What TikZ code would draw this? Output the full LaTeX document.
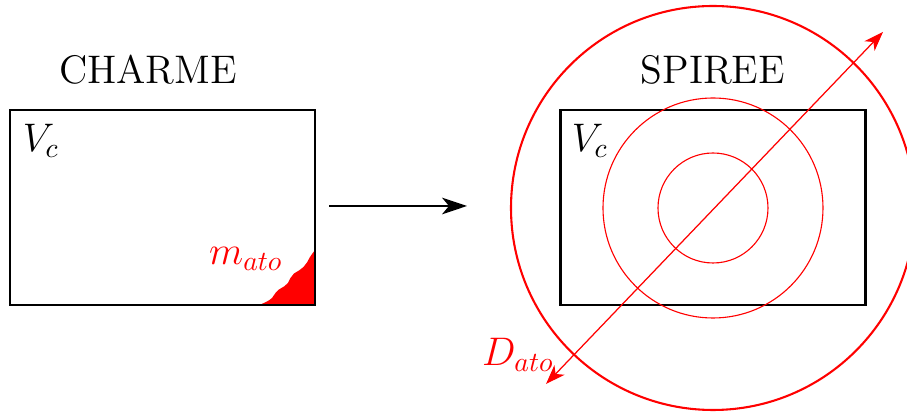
\documentclass[tikz,border=0pt]{standalone}
\usetikzlibrary{arrows.meta}
\begin{document}
\begin{tikzpicture}[x=0.361pt,y=-0.361pt,
  boxnode/.style={draw=black,line width=0.75pt,minimum width={305*0.361pt},minimum height={195*0.361pt},inner sep=0pt},
  titletext/.style={font=\Large,inner sep=0pt},
  lbl/.style={font=\Large,inner sep=0pt},
  redlbl/.style={font=\Large,text=red,inner sep=0pt},
  thincirc/.style={draw=red,line width=0.4pt},
  bigcirc/.style={draw=red,line width=0.75pt}]
\clip (0,0) rectangle (907,412);
\useasboundingbox (0,0) rectangle (907,412);
% left
\node[titletext] (charme) at (148,70) {CHARME};
\fill[red] (315,305) -- (259,305) --
  plot[smooth,tension=0.7] coordinates {(259,305) (266,302) (272,298) (275.5,293) (279,289.5) (284,286.5) (288,283) (290.5,278) (294,273.5) (299,270.5) (303.5,267) (307,262.5) (310,257) (315,250)} -- cycle;
\node[boxnode] (left) at (162.5,207.5) {};
\node[lbl] (vc1) at (41,141) {$V_c$};
\node[redlbl] (mato) at (246,259) {$m_{ato}$};
% arrow
\coordinate (a1) at (329,206);
\coordinate (a2) at (467,206);
\draw[line width=0.75pt,-{Stealth[length=9pt,width=6pt,inset=2.5pt]}] (a1) -- (a2);
% right
\node[boxnode] (right) at (713,207.5) {};
\node[titletext] (spiree) at (713,70) {SPIREE};
\node[lbl] (vc2) at (590,141) {$V_c$};
\coordinate (c) at (713,208);
\draw[thincirc] (c) circle[radius=55];
\draw[thincirc] (c) circle[radius=110];
\draw[bigcirc] (c) circle[radius=202];
\coordinate (d1) at (546,384);
\coordinate (d2) at (883,32);
\draw[red,line width=0.45pt,{Stealth[length=7pt,width=5pt,inset=2pt]}-{Stealth[length=7pt,width=5pt,inset=2pt]}] (d1) -- (d2);
\node[redlbl] (dato) at (518,355) {$D_{ato}$};
\end{tikzpicture}
\end{document}
